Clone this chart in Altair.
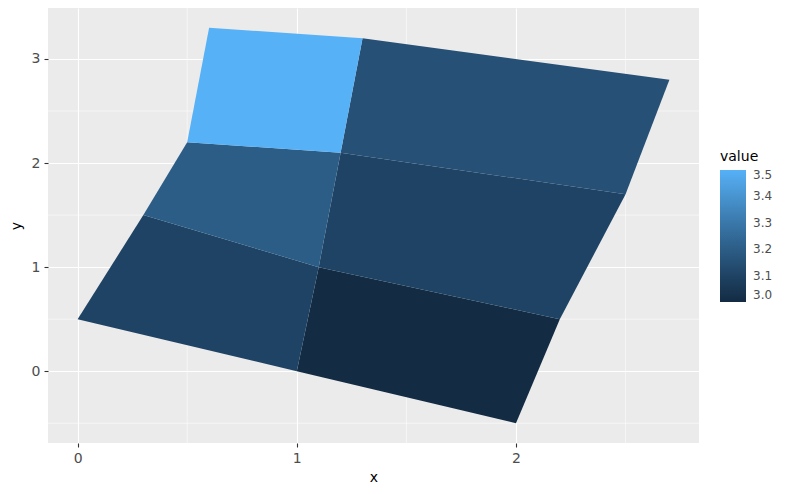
import altair as alt
import pandas as pd

ids = ["1.1", "2.1", "1.2", "2.2", "1.3", "2.3"]
values = [3.0, 3.1, 3.1, 3.2, 3.15, 3.5]
xs = [2, 1, 1.1, 2.2, 1, 0, 0.3, 1.1, 2.2, 1.1, 1.2, 2.5, 1.1, 0.3,
      0.5, 1.2, 2.5, 1.2, 1.3, 2.7, 1.2, 0.5, 0.6, 1.3]
ys = [-0.5, 0, 1, 0.5, 0, 0.5, 1.5, 1, 0.5, 1, 2.1, 1.7, 1, 1.5,
      2.2, 2.1, 1.7, 2.1, 3.2, 2.8, 2.1, 2.2, 3.3, 3.2]
minor_x = [0.5, 1.5, 2.5]
minor_y = [-0.5, 0.5, 1.5, 2.5]
x_ticks = [0, 1, 2]
y_ticks = [0, 1, 2, 3]
legend_ticks = [3.0, 3.1, 3.2, 3.3, 3.4, 3.5]

rows = []
for k, pid in enumerate(ids):
    for j in range(4):
        rows.append({"id": pid, "i": j, "x": xs[4 * k + j], "y": ys[4 * k + j],
                     "value": values[k]})
df = pd.DataFrame(rows)

xscale = alt.Scale(domain=[-0.135, 2.835], nice=False, zero=False)
yscale = alt.Scale(domain=[-0.69, 3.49], nice=False, zero=False)

vx = alt.Chart(pd.DataFrame({"x": minor_x})).mark_rule(
    color="white", strokeWidth=0.55).encode(x=alt.X("x:Q", scale=xscale))
hy = alt.Chart(pd.DataFrame({"y": minor_y})).mark_rule(
    color="white", strokeWidth=0.55).encode(y=alt.Y("y:Q", scale=yscale))

poly = alt.Chart(df).mark_line(filled=True, strokeWidth=0).encode(
    x=alt.X("x:Q", scale=xscale, title="x",
            axis=alt.Axis(values=x_ticks, format="d")),
    y=alt.Y("y:Q", scale=yscale, title="y",
            axis=alt.Axis(values=y_ticks, format="d")),
    detail="id:N",
    order=alt.Order("i:Q"),
    color=alt.Color(
        "value:Q",
        scale=alt.Scale(domain=[3.0, 3.5], range=["#132B43", "#56B1F7"],
                        interpolate="lab"),
        legend=alt.Legend(
            title="value", orient="none", legendX=672, legendY=142,
            values=legend_ticks, format=".1f", direction="vertical",
            gradientLength=132, gradientThickness=26,
            gradientStrokeWidth=0, labelOffset=7,
        ),
    ),
)

chart = alt.layer(vx, hy, poly).properties(
    width=651, height=435,
    autosize="none",
    padding={"left": 40, "top": 0, "right": 93, "bottom": 43},
).configure_view(
    fill="#EBEBEB", stroke=None
).configure_axis(
    domain=False, grid=True, gridColor="white", gridWidth=1.1,
    tickColor="#333333", tickSize=4, tickWidth=1.1,
    labelColor="#4D4D4D", labelFontSize=14, labelFont="DejaVu Sans",
    titleFont="DejaVu Sans", titleFontSize=14, titleFontWeight="normal",
    titleColor="black",
).configure_axisX(labelPadding=4, titlePadding=5).configure_axisY(
    labelPadding=4, titlePadding=8
).configure_legend(
    titleFont="DejaVu Sans", titleFontSize=14, titleFontWeight="normal",
    titleColor="black", labelFont="DejaVu Sans", labelFontSize=12,
    labelColor="#4D4D4D", titlePadding=6,
)

chart.save("out.html", embed_options={"renderer": "svg", "actions": False})
